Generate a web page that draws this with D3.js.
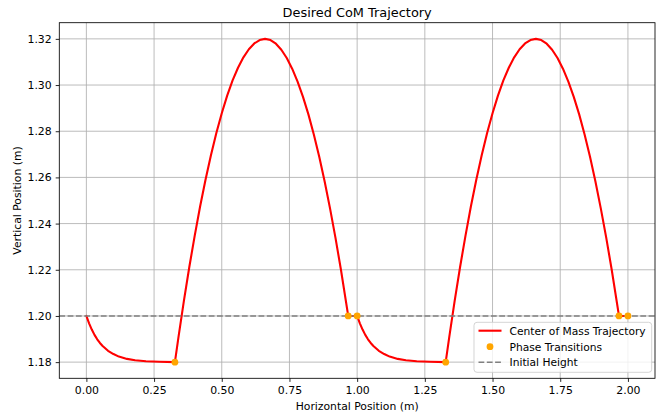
<!DOCTYPE html>
<html>
<head>
<meta charset="utf-8">
<script src="https://cdn.jsdelivr.net/npm/d3@7"></script>
<style>
  html, body { margin: 0; padding: 0; background: #fff; }
  svg { display: block; }
  text { font-family: "DejaVu Sans", sans-serif; fill: #000; }
</style>
</head>
<body>
<svg id="chart" width="660" height="413"></svg>
<script>
// ---- Data ----
const trajX = [
  0.00, 0.01, 0.02, 0.03, 0.04, 0.05, 0.06, 0.08, 0.10, 0.12, 0.15, 0.18, 0.22, 0.27, 0.327,
  0.34, 0.36, 0.38, 0.40, 0.42, 0.44, 0.46, 0.48, 0.50, 0.52, 0.54, 0.56, 0.58, 0.60, 0.62, 0.64,
  0.66, 0.68, 0.70, 0.72, 0.74, 0.76, 0.78, 0.80, 0.82, 0.84, 0.86, 0.88, 0.90, 0.92, 0.94, 0.967,
  1.00, 1.01, 1.02, 1.03, 1.04, 1.05, 1.06, 1.08, 1.10, 1.12, 1.15, 1.18, 1.22, 1.27, 1.327,
  1.34, 1.36, 1.38, 1.40, 1.42, 1.44, 1.46, 1.48, 1.50, 1.52, 1.54, 1.56, 1.58, 1.60, 1.62, 1.64,
  1.66, 1.68, 1.70, 1.72, 1.74, 1.76, 1.78, 1.80, 1.82, 1.84, 1.86, 1.88, 1.90, 1.92, 1.94, 1.967,
  2.00
];
const trajY = [
  1.2000, 1.1968, 1.1941, 1.1918, 1.1899, 1.1883, 1.1870, 1.1849, 1.1835, 1.1824, 1.1814, 1.1808, 1.1804, 1.1802, 1.1800,
  1.1907, 1.2064, 1.2211, 1.2347, 1.2474, 1.2590, 1.2696, 1.2792, 1.2878, 1.2954, 1.3020, 1.3075, 1.3120, 1.3155, 1.3180, 1.3195,
  1.3200, 1.3195, 1.3179, 1.3153, 1.3117, 1.3071, 1.3015, 1.2949, 1.2873, 1.2786, 1.2689, 1.2582, 1.2465, 1.2338, 1.2201, 1.2000,
  1.2000, 1.1968, 1.1941, 1.1918, 1.1899, 1.1883, 1.1870, 1.1849, 1.1835, 1.1824, 1.1814, 1.1808, 1.1804, 1.1802, 1.1800,
  1.1907, 1.2064, 1.2211, 1.2347, 1.2474, 1.2590, 1.2696, 1.2792, 1.2878, 1.2954, 1.3020, 1.3075, 1.3120, 1.3155, 1.3180, 1.3195,
  1.3200, 1.3195, 1.3179, 1.3153, 1.3117, 1.3071, 1.3015, 1.2949, 1.2873, 1.2786, 1.2689, 1.2582, 1.2465, 1.2338, 1.2201, 1.2000,
  1.2000
];
const phaseX = [0.327, 0.967, 1.000, 1.327, 1.967, 2.000];
const phaseY = [1.180, 1.200, 1.200, 1.180, 1.200, 1.200];
const initialHeight = 1.20;

const xTicks = [0.00, 0.25, 0.50, 0.75, 1.00, 1.25, 1.50, 1.75, 2.00];
const yTicks = [1.18, 1.20, 1.22, 1.24, 1.26, 1.28, 1.30, 1.32];
const xDomain = [-0.1, 2.1];
const yDomain = [1.173, 1.327];

const titleText = "Desired CoM Trajectory";
const xLabelText = "Horizontal Position (m)";
const yLabelText = "Vertical Position (m)";
const legendLabels = ["Center of Mass Trajectory", "Phase Transitions", "Initial Height"];

// ---- Layout ----
const svg = d3.select("#chart");
const L = 59.3, R = 655, T = 22.7, B = 378.3;

const x = d3.scaleLinear().domain(xDomain).range([L, R]);
const y = d3.scaleLinear().domain(yDomain).range([B, T]);

// Grid
const grid = svg.append("g");
grid.selectAll("line.gx").data(xTicks).enter().append("line")
  .attr("x1", d => x(d)).attr("x2", d => x(d)).attr("y1", T).attr("y2", B)
  .attr("stroke", "#b0b0b0").attr("stroke-width", 0.85);
grid.selectAll("line.gy").data(yTicks).enter().append("line")
  .attr("x1", L).attr("x2", R).attr("y1", d => y(d)).attr("y2", d => y(d))
  .attr("stroke", "#b0b0b0").attr("stroke-width", 0.85);

// Axes
const xAxis = d3.axisBottom(x).tickValues(xTicks).tickFormat(d3.format(".2f")).tickSizeOuter(0).tickSize(3.6).tickPadding(4);
const yAxis = d3.axisLeft(y).tickValues(yTicks).tickFormat(d3.format(".2f")).tickSizeOuter(0).tickSize(3.6).tickPadding(4);

const gx = svg.append("g").attr("transform", `translate(0,${B})`).call(xAxis);
const gy = svg.append("g").attr("transform", `translate(${L},0)`).call(yAxis);
[gx, gy].forEach(g => {
  g.select(".domain").remove();
  g.selectAll(".tick line").attr("stroke", "#000").attr("stroke-width", 0.85);
  g.selectAll(".tick text").attr("font-family", "DejaVu Sans").attr("font-size", 10.9).attr("fill", "#222");
});

// Clip
svg.append("clipPath").attr("id", "clip").append("rect")
  .attr("x", L).attr("y", T).attr("width", R - L).attr("height", B - T);

const plot = svg.append("g").attr("clip-path", "url(#clip)");

// Trajectory
const pts = trajX.map((d, i) => [d, trajY[i]]);
const line = d3.line().x(d => x(d[0])).y(d => y(d[1])).curve(d3.curveLinear);
plot.append("path").datum(pts).attr("d", line)
  .attr("fill", "none").attr("stroke", "#ff0000").attr("stroke-width", 2.1)
  .attr("stroke-linejoin", "round").attr("stroke-linecap", "round");

// Initial height
plot.append("line")
  .attr("x1", L).attr("x2", R).attr("y1", y(initialHeight)).attr("y2", y(initialHeight))
  .attr("stroke", "#808080").attr("stroke-width", 1.5).attr("stroke-dasharray", "5.8,2.5");

// Phase transitions
plot.selectAll("circle.p").data(phaseX.map((d, i) => [d, phaseY[i]])).enter().append("circle")
  .attr("cx", d => x(d[0])).attr("cy", d => y(d[1])).attr("r", 3.4)
  .attr("fill", "#ffa500");

// Frame
svg.append("rect").attr("x", L).attr("y", T).attr("width", R - L).attr("height", B - T)
  .attr("fill", "none").attr("stroke", "#000").attr("stroke-width", 0.85);

// Title and labels
svg.append("text").attr("x", (L + R) / 2).attr("y", 16.8).attr("text-anchor", "middle")
  .attr("font-size", 12.9).text(titleText);
svg.append("text").attr("x", (L + R) / 2).attr("y", 409.5).attr("text-anchor", "middle")
  .attr("font-size", 10.8).text(xLabelText);
svg.append("text").attr("transform", `translate(20.5,${(T + B) / 2}) rotate(-90)`).attr("text-anchor", "middle")
  .attr("font-size", 10.8).text(yLabelText);

// Legend
const lg = svg.append("g");
lg.append("rect").attr("x", 474).attr("y", 322.3).attr("width", 177.7).attr("height", 50)
  .attr("rx", 3).attr("fill", "#fff").attr("fill-opacity", 0.8)
  .attr("stroke", "#cccccc").attr("stroke-width", 0.85);
const rowY = [330.7, 346.7, 362.3];
lg.append("line").attr("x1", 478.5).attr("x2", 501.5).attr("y1", rowY[0]).attr("y2", rowY[0])
  .attr("stroke", "#ff0000").attr("stroke-width", 2.1);
lg.append("circle").attr("cx", 490).attr("cy", rowY[1]).attr("r", 3.4).attr("fill", "#ffa500");
lg.append("line").attr("x1", 478.5).attr("x2", 501.5).attr("y1", rowY[2]).attr("y2", rowY[2])
  .attr("stroke", "#808080").attr("stroke-width", 1.5).attr("stroke-dasharray", "5.8,2.5");
lg.selectAll("text.l").data(legendLabels).enter().append("text")
  .attr("x", 509.5).attr("y", (d, i) => rowY[i] + 3.9)
  .attr("font-size", 10.7).attr("fill", "#222").text(d => d);
</script>
</body>
</html>
